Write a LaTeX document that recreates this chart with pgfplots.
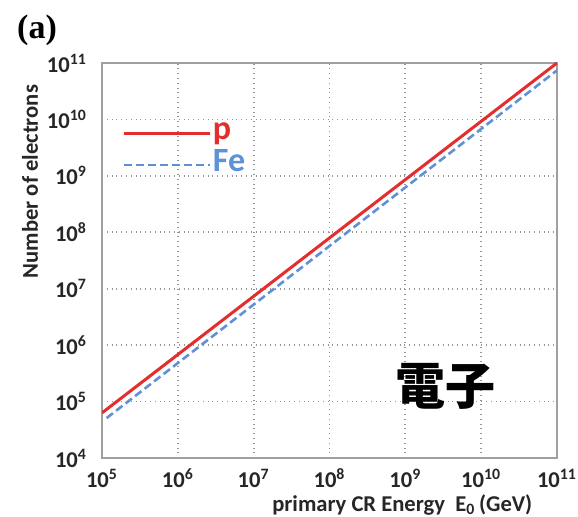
\documentclass[border=0pt]{standalone}
\usepackage{pgfplots}
\pgfplotsset{compat=1.18}
\usepackage{fontspec}
\setmainfont{Carlito}
\newfontfamily\serif{Liberation Serif}
\newfontfamily\cjk{Noto Sans CJK JP}
\definecolor{pred}{RGB}{228,45,45}
\definecolor{feblue}{RGB}{95,145,215}
\definecolor{gridgray}{RGB}{150,150,150}
\definecolor{framegray}{RGB}{160,160,160}
\begin{document}
\begin{tikzpicture}
\begin{axis}[
  at={(51pt,29.5pt)}, anchor=south west,
  scale only axis, width=227.5pt, height=197.5pt,
  xmode=log, ymode=log,
  xmin=1e5, xmax=1e11, ymin=1e4, ymax=1e11,
  xtick={1e5,1e6,1e7,1e8,1e9,1e10,1e11},
  ytick={1e4,1e5,1e6,1e7,1e8,1e9,1e10,1e11},
  xticklabels={10\textsuperscript{5},10\textsuperscript{6},10\textsuperscript{7},10\textsuperscript{8},10\textsuperscript{9},10\textsuperscript{10},10\textsuperscript{11}},
  yticklabels={10\textsuperscript{4},10\textsuperscript{5},10\textsuperscript{6},10\textsuperscript{7},10\textsuperscript{8},10\textsuperscript{9},10\textsuperscript{10},10\textsuperscript{11}},
  xminorticks=false, yminorticks=false,
  grid=major,
  major grid style={gridgray, dotted, line width=0.9pt},
  axis line style={framegray, line width=0.9pt},
  tick style={draw=none},
  ticklabel style={font=\bfseries\fontsize{11.3}{11.3}\selectfont, text=black!85},
  yticklabel style={xshift=-4pt},
  xticklabel style={yshift=-2pt},
  xlabel={primary CR Energy\ \ E\textsubscript{0}\,(GeV)},
  ylabel={Number of electrons},
  label style={font=\bfseries\fontsize{11.3}{11.3}\selectfont, text=black!85},
  xlabel style={at={(axis description cs:0.66,-0.119)}, anchor=center},
  ylabel style={at={(axis description cs:-0.158,0.70)}, anchor=center, rotate=0},
  legend style={at={(axis description cs:0.045,0.782)}, anchor=west, draw=none, fill=none,
    inner sep=0pt, font=\bfseries\fontsize{17}{17}\selectfont,
    nodes={text height=10.5pt, text depth=4.5pt, inner sep=0.5pt}},
  legend cell align=left,
  legend image code/.code={\draw[#1] (0pt,0pt) -- (26.5pt,0pt); \path (0pt,0pt) -- (43pt,0pt);},
]
\addplot[pred, line width=1.5pt] coordinates {(1e5,6.3e4) (1e11,1e11)};
\addlegendentry{\textcolor{pred}{p}}
\addplot[feblue, line width=1.3pt, dash pattern=on 4pt off 2pt] coordinates {(1.15e5,5.1e4) (1e11,7.4e10)};
\addlegendentry{\textcolor{feblue}{Fe}}
\end{axis}
\node[font=\serif\bfseries\fontsize{17}{17}\selectfont] at (18.5pt,243.5pt) {(a)};
\node[font=\cjk\bfseries\fontsize{25}{25}\selectfont] at (222.5pt,65.5pt) {電子};
\pgfresetboundingbox
\path (0pt,0pt) rectangle (289pt,258.5pt);
\end{tikzpicture}
\end{document}
